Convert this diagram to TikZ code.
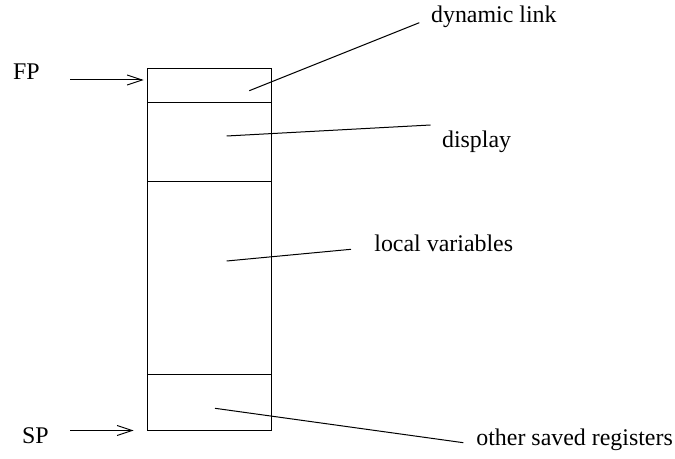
\documentclass[tikz,border=0pt]{standalone}
\usepackage{fontspec}
\setmainfont{Liberation Serif}
\usetikzlibrary{arrows.meta, positioning}

\tikzset{
    cell/.style={draw, rectangle, line width=0.6pt, minimum width=62pt, inner sep=0pt, outer sep=0pt},
    lbl/.style={inner sep=0pt, anchor=base west},
    ptr/.style={-{Straight Barb[length=7.5pt, width=5pt]}, line width=0.5pt},
    leader/.style={line width=0.5pt}
}

\begin{document}
\begin{tikzpicture}[x=0.5pt, y=-0.5pt, font=\fontsize{11.95}{14}\selectfont]
        \useasboundingbox (0,0) rectangle (675,459);

        % Nodes
        \node[cell, minimum height=17pt, anchor=north west] (dynlink) at (147.7,68.3) {};
        \node[cell, minimum height=39.7pt, below=0pt of dynlink] (display) {};
        \node[cell, minimum height=96.25pt, below=0pt of display] (locals) {};
        \node[cell, minimum height=28.15pt, below=0pt of locals] (saved) {};

        \node[lbl] (fp) at (12.7,80) {FP};
        \node[lbl] (sp) at (21.7,443.3) {SP};

        \node[lbl] (dynlbl) at (430.7,22.7) {dynamic link};
        \node[lbl] (displbl) at (441.7,148) {display};
        \node[lbl] (loclbl) at (374,251.7) {local variables};
        \node[lbl] (savlbl) at (476,445.5) {other saved registers};

        \coordinate (dynlink-in) at (249.3,90.7);
        \coordinate (display-in) at (226.7,136);
        \coordinate (locals-in) at (226.7,261);
        \coordinate (saved-in) at (215,408.3);

        % Arrows
        \draw[ptr] ([xshift=15pt]fp.base east) -- ([xshift=-2pt]fp.base -| dynlink.west);
        \draw[ptr] ([xshift=15pt]fp.base east |- saved.south west) -- ([xshift=-7pt]saved.south west);

        % Leaders
        \draw[leader] (dynlink-in) -- ([xshift=-5.7pt]dynlbl.base west);
        \draw[leader] (display-in) -- ([xshift=-5.6pt, yshift=11.5pt]displbl.base west);
        \draw[leader] (locals-in) -- ([xshift=-11.5pt, yshift=1.2pt]loclbl.base west);
        \draw[leader] (saved-in) -- ([xshift=-6.35pt, yshift=1.4pt]savlbl.base west);
    \end{tikzpicture}
\end{document}
